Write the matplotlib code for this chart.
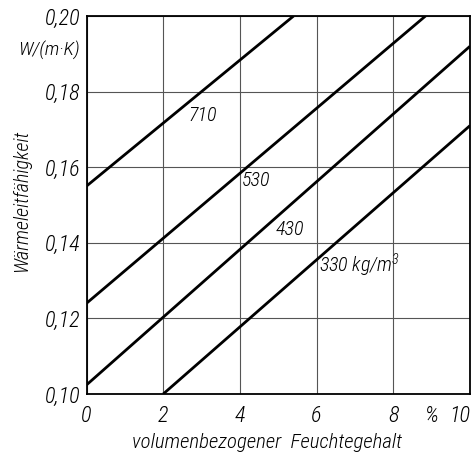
import matplotlib
matplotlib.use("Agg")
import matplotlib.pyplot as plt

plt.rcParams['font.family'] = ['Roboto Condensed', 'DejaVu Sans']
plt.rcParams['font.style'] = 'italic'
plt.rcParams['font.weight'] = 'light'
plt.rcParams['mathtext.fontset'] = 'custom'
plt.rcParams['mathtext.it'] = 'Roboto Condensed:italic:light'
plt.rcParams['mathtext.rm'] = 'Roboto Condensed:italic:light'

# moisture content in %, thermal conductivity in W/(m K), one straight line per density
densities = ["710", "530", "430", "330"]
moisture = {
    "710": [0.0, 5.4],
    "530": [0.0, 8.84],
    "430": [0.0, 10.0],
    "330": [2.0, 10.0],
}
conductivity = {
    "710": [0.155, 0.200],
    "530": [0.124, 0.200],
    "430": [0.1024, 0.192],
    "330": [0.100, 0.171],
}
label_text = {"710": "710", "530": "530", "430": "430", "330": "330 kg/m$^{3}$"}
label_pos = {"710": (2.65, 0.1738), "530": (4.05, 0.1564), "430": (4.92, 0.1434), "330": (6.07, 0.1341)}

xticks = [0, 2, 4, 6, 8, 10]
yticks = [0.10, 0.12, 0.14, 0.16, 0.18, 0.20]
ytick_labels = ["0,10", "0,12", "0,14", "0,16", "0,18", "0,20"]

fig = plt.figure(figsize=(4.75, 4.55), dpi=100)
ax = fig.add_axes([86.5 / 475, 1 - 394 / 455, (470 - 86.5) / 475, (394 - 16) / 455])

for d in densities:
    ax.plot(moisture[d], conductivity[d], color="black", lw=2.0, solid_capstyle="butt")
    x, y = label_pos[d]
    ax.text(x, y, label_text[d], fontsize=14.5, ha="left", va="center")

ax.set_xlim(0, 10)
ax.set_ylim(0.10, 0.20)
ax.set_xticks(xticks, [str(t) for t in xticks])
ax.set_xticks([9], ["%"], minor=True)
ax.set_yticks(yticks, ytick_labels)
ax.tick_params(which="both", length=0, labelsize=16)
ax.tick_params(axis="x", which="both", pad=8)
ax.tick_params(axis="y", pad=4.5)
ax.get_xticklabels()[-1].set_ha("right")
ax.grid(True, which="major", color="#555555", lw=0.8)

for s in ax.spines.values():
    s.set_linewidth(1.3)

fig.text(80 / 475, 1 - 50 / 455, "W/(m·K)", fontsize=14, ha="right", va="center")
fig.text(22 / 475, 1 - 201 / 455, "Wärmeleitfähigkeit", fontsize=14.5, rotation=90,
         ha="center", va="center")
fig.text(267 / 475, 1 - 442 / 455, "volumenbezogener  Feuchtegehalt", fontsize=15,
         ha="center", va="center")

fig.savefig("out.png", dpi=100)
